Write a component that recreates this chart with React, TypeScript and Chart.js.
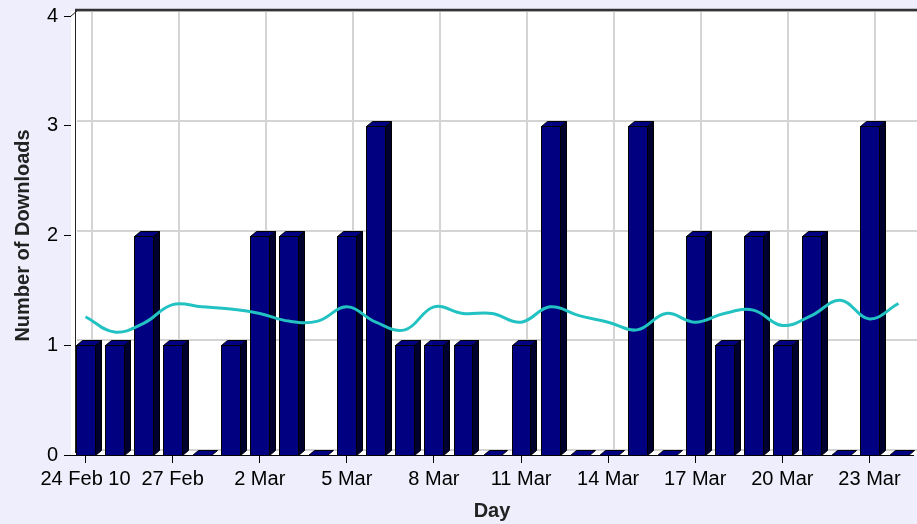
import React, { useEffect, useRef } from 'react';
import { Chart, registerables } from 'chart.js';
Chart.register(...registerables);

const days = ['24 Feb 10','25 Feb','26 Feb','27 Feb','28 Feb','1 Mar','2 Mar','3 Mar','4 Mar','5 Mar','6 Mar','7 Mar','8 Mar','9 Mar','10 Mar','11 Mar','12 Mar','13 Mar','14 Mar','15 Mar','16 Mar','17 Mar','18 Mar','19 Mar','20 Mar','21 Mar','22 Mar','23 Mar','24 Mar'];
const downloads = [1,1,2,1,0,1,2,2,0,2,3,1,1,1,0,1,3,0,0,3,0,2,1,2,1,2,0,3,0];
const trend = [1.26,1.12,1.2,1.37,1.35,1.33,1.29,1.22,1.22,1.35,1.21,1.14,1.35,1.29,1.29,1.21,1.35,1.27,1.21,1.14,1.29,1.21,1.29,1.32,1.18,1.27,1.41,1.24,1.38];
const labelEvery = 3;
const yMin = 0;
const yMax = 4;

const DX = 6;
const DY = 5;

const threeD = {
  id: 'threeD',
  beforeDraw(chart: any) {
    const { ctx, width, height } = chart;
    ctx.save();
    ctx.fillStyle = '#eeeefc';
    ctx.fillRect(0, 0, width, height);
    ctx.restore();
  },
  beforeDatasetsDraw(chart: any) {
    const { ctx, chartArea } = chart;
    const { left, right, top, bottom } = chartArea;
    const xs = chart.scales.x;
    const ys = chart.scales.y;
    ctx.save();
    ctx.fillStyle = '#ffffff';
    ctx.fillRect(left, top - DY, right - left + 10, bottom - top + DY);
    // back grid
    ctx.strokeStyle = '#d4d4d4';
    ctx.lineWidth = 2;
    ys.ticks.forEach((t: any) => {
      const y = Math.round(ys.getPixelForValue(t.value)) - DY;
      ctx.beginPath();
      ctx.moveTo(left + DX, y);
      ctx.lineTo(right + 10, y);
      ctx.stroke();
    });
    days.forEach((_d: string, i: number) => {
      if (i % labelEvery !== 0) return;
      const x = Math.round(xs.getPixelForValue(i)) + DX;
      ctx.beginPath();
      ctx.moveTo(x, top - DY);
      ctx.lineTo(x, bottom - DY);
      ctx.stroke();
    });
    // left wall
    ctx.strokeStyle = '#222';
    ctx.lineWidth = 1;
    ctx.beginPath();
    ctx.moveTo(left + 4.5, top - DY);
    ctx.lineTo(left + 4.5, bottom - 2);
    ctx.stroke();
    ctx.beginPath();
    ctx.moveTo(left, top);
    ctx.lineTo(left + DX, top - DY);
    ctx.stroke();
    // top border
    ctx.strokeStyle = '#333';
    ctx.lineWidth = 2.5;
    ctx.beginPath();
    ctx.moveTo(left + 4, top - DY - 1);
    ctx.lineTo(right + 10, top - DY - 1);
    ctx.stroke();
    ctx.restore();
  },
  afterDatasetDraw(chart: any, args: any) {
    if (args.index !== 0) return;
    const { ctx } = chart;
    const meta = chart.getDatasetMeta(0);
    ctx.save();
    ctx.lineWidth = 1;
    ctx.strokeStyle = '#000';
    ctx.lineJoin = 'miter';
    meta.data.forEach((bar: any) => {
      const p = bar.getProps(['x', 'y', 'base', 'width'], true);
      const l = Math.round(p.x - p.width / 2) + 0.5;
      const r = Math.round(p.x + p.width / 2) + 0.5;
      const t = Math.round(p.y) + 0.5;
      const b = Math.round(p.base) + 0.5;
      // side
      if (b - t > 0.6) {
        ctx.fillStyle = '#00002e';
        ctx.beginPath();
        ctx.moveTo(r, t);
        ctx.lineTo(r + DX, t - DY);
        ctx.lineTo(r + DX, b - DY);
        ctx.lineTo(r, b);
        ctx.closePath();
        ctx.fill();
        ctx.stroke();
      }
      // top
      ctx.fillStyle = '#000080';
      ctx.beginPath();
      ctx.moveTo(l, t);
      ctx.lineTo(l + DX, t - DY);
      ctx.lineTo(r + DX, t - DY);
      ctx.lineTo(r, t);
      ctx.closePath();
      ctx.fill();
      ctx.stroke();
      // front
      if (b - t > 0.6) {
        ctx.fillStyle = '#000080';
        ctx.fillRect(l, t, r - l, b - t);
        ctx.strokeRect(l, t, r - l, b - t);
      }
    });
    ctx.restore();
  },
};

export default function App() {
  const ref = useRef<HTMLCanvasElement | null>(null);
  useEffect(() => {
    if (!ref.current) return;
    Chart.defaults.font.family = "'Liberation Sans', Arial, sans-serif";
    const chart = new Chart(ref.current, {
      type: 'bar',
      data: {
        labels: days,
        datasets: [
          {
            type: 'bar',
            label: 'Downloads',
            data: downloads,
            backgroundColor: 'rgba(0,0,0,0)',
            borderWidth: 0,
            barPercentage: 0.65,
            categoryPercentage: 1,
            order: 2,
          },
          {
            type: 'line',
            label: 'Trend',
            data: trend,
            borderColor: '#22c2c2',
            borderWidth: 3,
            pointRadius: 0,
            tension: 0.4,
            fill: false,
            order: 1,
          } as any,
        ],
      },
      options: {
        responsive: false,
        animation: false,
        layout: { padding: { top: 15, right: 4, left: 0, bottom: 0 } },
        plugins: { legend: { display: false }, tooltip: { enabled: false } },
        scales: {
          x: {
            offset: true,
            grid: { offset: false, drawOnChartArea: false, color: '#000', tickLength: 8, lineWidth: 1 },
            border: { display: true, color: '#000', width: 1 },
            ticks: {
              autoSkip: false,
              maxRotation: 0,
              padding: 4,
              color: '#000',
              font: { size: 20 },
              callback: (v: any, i: number) => (i % labelEvery === 0 ? days[i] : null),
            },
            title: { display: true, text: 'Day', color: '#222', font: { size: 20, weight: 'bold' }, padding: { top: 0, bottom: 1 } },
            afterFit: (s: any) => { s.height = 69; },
          },
          y: {
            min: yMin,
            max: yMax,
            grid: { drawOnChartArea: false, color: '#000', tickLength: 7 },
            border: { display: true, color: '#000', width: 1 },
            ticks: { stepSize: 1, padding: 6, color: '#000', font: { size: 20, lineHeight: 1 } },
            title: { display: true, text: 'Number of Downloads', color: '#222', font: { size: 20, weight: 'bold' }, padding: { top: 11, bottom: 0 } },
            afterFit: (s: any) => { s.width = 71; },
          },
        },
      },
      plugins: [threeD],
    });
    return () => chart.destroy();
  }, []);
  return (
    <div style={{ position: 'fixed', left: 0, top: 0, width: 917, height: 524, background: '#eeeefc' }}>
      <canvas ref={ref} width={917} height={524} style={{ display: 'block' }} />
    </div>
  );
}
